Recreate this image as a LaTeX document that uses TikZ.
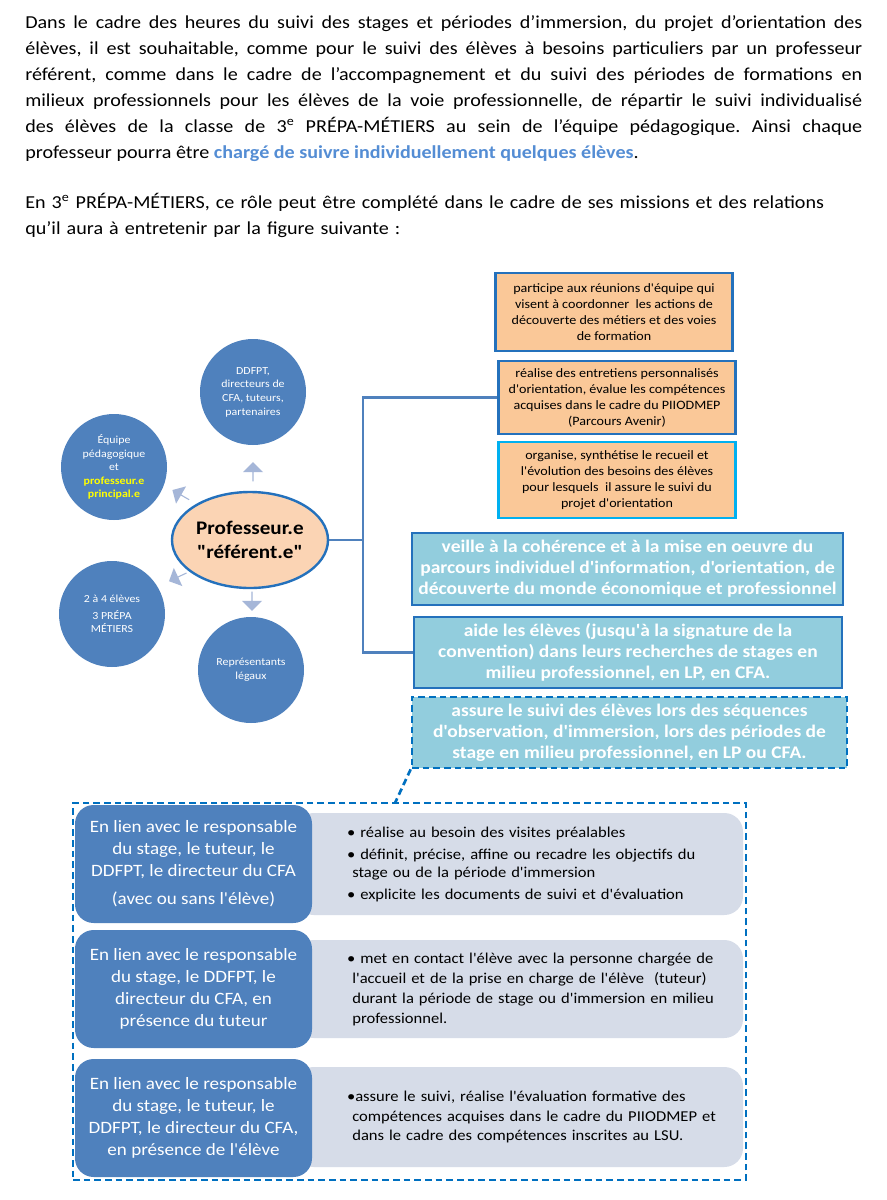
\documentclass[tikz,border=0pt]{standalone}
\usepackage{fontspec}
\defaultfontfeatures[\rmfamily]{}
\setmainfont{Carlito}[FakeStretch=1.1]
\usepackage{tikz}
\usetikzlibrary{shapes.arrows, shapes.geometric}
\definecolor{bleufonce}{RGB}{79,129,189}
\definecolor{peche}{RGB}{251,212,180}
\definecolor{orangeclair}{RGB}{250,200,152}
\definecolor{bordbleu}{RGB}{36,113,188}
\definecolor{pointbleu}{RGB}{0,112,192}
\definecolor{cyanbord}{RGB}{0,176,240}
\definecolor{turquoise}{RGB}{146,205,221}
\definecolor{grisbleu}{RGB}{214,220,232}
\definecolor{flechegris}{RGB}{165,182,216}
\definecolor{bleulien}{RGB}{84,141,212}
\definecolor{jaunevif}{RGB}{255,255,0}
\frenchspacing
\tikzset{
  texte/.style={inner sep=0pt, text width=627.75pt, align=justify,
    font=\fontsize{13.7}{19.5}\selectfont},
  cercle/.style={circle, fill=bleufonce, minimum size=79.5pt, inner sep=0pt,
    text=white, align=center, font=\fontsize{8.1}{10.2}\selectfont},
  prof/.style={ellipse, fill=peche, draw=bordbleu, line width=1.8pt,
    minimum width=117pt, minimum height=72pt, inner sep=0pt, align=center,
    font=\fontsize{14.4}{18}\selectfont\bfseries},
  fleche/.style={single arrow, fill=flechegris, minimum height=14.5pt,
    minimum width=15pt, single arrow head extend=3.5pt, inner sep=0pt},
  orangebox/.style={rectangle, fill=orangeclair, draw=bordbleu, line width=2pt,
    minimum width=178pt, inner sep=0pt, align=center,
    font=\fontsize{9.6}{12}\selectfont},
  tealbox/.style={rectangle, fill=turquoise, draw=bordbleu, line width=2pt,
    inner sep=0pt, align=center, text=white,
    font=\fontsize{13.3}{15.75}\selectfont\bfseries},
  crochet/.style={draw=bleufonce, line width=2.2pt},
  pointille/.style={draw=pointbleu, line width=2pt, dash pattern=on 5pt off 3pt},
  lienbox/.style={rectangle, rounded corners=14pt, fill=bleufonce,
    minimum width=177.75pt, minimum height=88.5pt, inner sep=0pt,
    text=white, align=center, font=\fontsize{13}{16.5}\selectfont},
  grisbox/.style={rectangle, rounded corners=14pt, fill=grisbleu,
    minimum width=336pt, text width=330pt, inner xsep=3pt, inner ysep=0pt,
    align=left, font=\fontsize{11.3}{13.5}\selectfont},
}
\begin{document}
\begin{tikzpicture}[x=0.75pt, y=-0.75pt]

\fill[white] (0,0) rectangle (887,1200);
\useasboundingbox (0,0) rectangle (887,1200);

%% ─── Introduction text ──────────────────────────────────────────────────────
\node[texte, anchor=north west] (para1) at (25,15) {%
Dans le cadre des heures du suivi des stages et périodes d’immersion, du projet d’orientation des\linebreak
élèves, il est souhaitable, comme pour le suivi des élèves à besoins particuliers par un professeur\linebreak
référent, comme dans le cadre de l’accompagnement et du suivi des périodes de formations en\linebreak
milieux professionnels pour les élèves de la voie professionnelle, de répartir le suivi individualisé\linebreak
des élèves de la classe de 3\textsuperscript{e} PRÉPA-MÉTIERS au sein de l’équipe pédagogique. Ainsi chaque\linebreak
professeur pourra être {\color{bleulien}\bfseries chargé de suivre individuellement quelques élèves}.};
\node[texte, align=left, anchor=north west] (para2) at (25,193) {%
En 3\textsuperscript{e} PRÉPA-MÉTIERS, ce rôle peut être complété dans le cadre de ses missions et des relations\\
qu’il aura à entretenir par la figure suivante :};

%% ─── Central ellipse and partner circles ────────────────────────────────────
\node[prof] (referent) at (250,540) {Professeur.e\\"référent.e"};
\node[cercle] (ddfpt) at (253,392) {DDFPT,\\directeurs de\\CFA, tuteurs,\\partenaires};
\node[cercle] (equipe) at (114,467) {Équipe\\pédagogique\\et\\
  {\color{jaunevif}\bfseries professeur.e}\\{\color{jaunevif}\bfseries principal.e}};
\node[cercle] (eleves) at (112,614) {2 à 4 élèves\\[2pt]3 PRÉPA\\MÉTIERS};
\node[cercle] (legaux) at (251,670) {Représentants\\légaux};

% small block arrows round the ellipse
\node[fleche, rotate=90]  (fhaut)   at (253,472) {};
\node[fleche, rotate=150] (fequipe) at (181,495) {};
\node[fleche, rotate=205] (feleves) at (178,577) {};
\node[fleche, rotate=-90] (fbas)    at (252,601) {};

%% ─── Missions (orange) ──────────────────────────────────────────────────────
\node[orangebox, minimum height=58.5pt] (participe) at (614,312)
  {participe aux réunions d'équipe qui\\visent à coordonner\ \ les actions de\\découverte des métiers et des voies\\de formation};
\node[orangebox, minimum height=54.75pt] (realise) at (617,397.5)
  {réalise des entretiens personnalisés\\d'orientation, évalue les compétences\\acquises dans le cadre du PIIODMEP\\(Parcours Avenir)};
\node[orangebox, draw=cyanbord, minimum height=57pt] (organise) at (617,480)
  {organise, synthétise le recueil et\\l'évolution des besoins des élèves\\pour lesquels\ \ il assure le suivi du\\projet d'orientation};

%% ─── Missions (turquoise) ───────────────────────────────────────────────────
\node[tealbox, minimum width=323.25pt, minimum height=54pt] (veille) at (627.5,569)
  {veille à la cohérence et à la mise en oeuvre du\\parcours individuel d'information, d'orientation, de\\découverte du monde économique et professionnel};
\node[tealbox, minimum width=321pt, minimum height=53.25pt] (aide) at (628,652.5)
  {aide les élèves (jusqu'à la signature de la\\convention) dans leurs recherches de stages en\\milieu professionnel, en LP, en CFA.};
\node[tealbox, pointille, fill=turquoise, minimum width=326.25pt, minimum height=53.25pt] (assure) at (629.5,732.5)
  {assure le suivi des élèves lors des séquences\\d'observation, d'immersion, lors des périodes de\\stage en milieu professionnel, en LP ou CFA.};

% bracket from the ellipse
\coordinate (brk) at (363,540);
\draw[crochet] (referent.east) -- (brk);
\draw[crochet] (realise.west) -| (brk) |- (aide.west);

%% ─── Follow-up frame ────────────────────────────────────────────────────────
\node[pointille, rectangle, minimum width=504.75pt, minimum height=282.75pt, inner sep=0pt] (cadre) at (409.5,991.5) {};
\coordinate (pied) at (395,803);
\draw[pointille] (assure.south west) -- (pied);

\node[grisbox, minimum height=76.5pt] (gris1) at (519,864) {\leftskip=36pt
  • réalise au besoin des visites préalables\par\vspace{3pt}
  • définit, précise, affine ou recadre les objectifs du\\\hspace*{4pt}stage ou de la période d'immersion\par\vspace{3pt}
  • explicite les documents de suivi et d'évaluation\par};
\node[grisbox, minimum height=73.5pt, font=\fontsize{11.3}{15}\selectfont] (gris2) at (519,989) {\leftskip=36pt
  • met en contact l'élève avec la personne chargée de\\\hspace*{4pt}l'accueil et de la prise en charge de l'élève\ \ (tuteur)\\\hspace*{4pt}durant la période de stage ou d'immersion en milieu\\\hspace*{4pt}professionnel.\par};
\node[grisbox, minimum height=75pt, font=\fontsize{11.3}{14.6}\selectfont] (gris3) at (519,1117) {\leftskip=36pt
  •assure le suivi, réalise l'évaluation formative des\\\hspace*{4pt}compétences acquises dans le cadre du PIIODMEP et\\\hspace*{4pt}dans le cadre des compétences inscrites au LSU.\par};

\node[lienbox] (lien1) at (193.5,864)
  {En lien avec le responsable\\du stage, le tuteur, le\\DDFPT, le directeur du CFA\\[4.5pt](avec ou sans l'élève)};
\node[lienbox] (lien2) at (193.5,989)
  {En lien avec le responsable\\du stage, le DDFPT, le\\directeur du CFA, en\\présence du tuteur};
\node[lienbox] (lien3) at (193.5,1118)
  {En lien avec le responsable\\du stage, le tuteur, le\\DDFPT, le directeur du CFA,\\en présence de l'élève};

\end{tikzpicture}
\end{document}
